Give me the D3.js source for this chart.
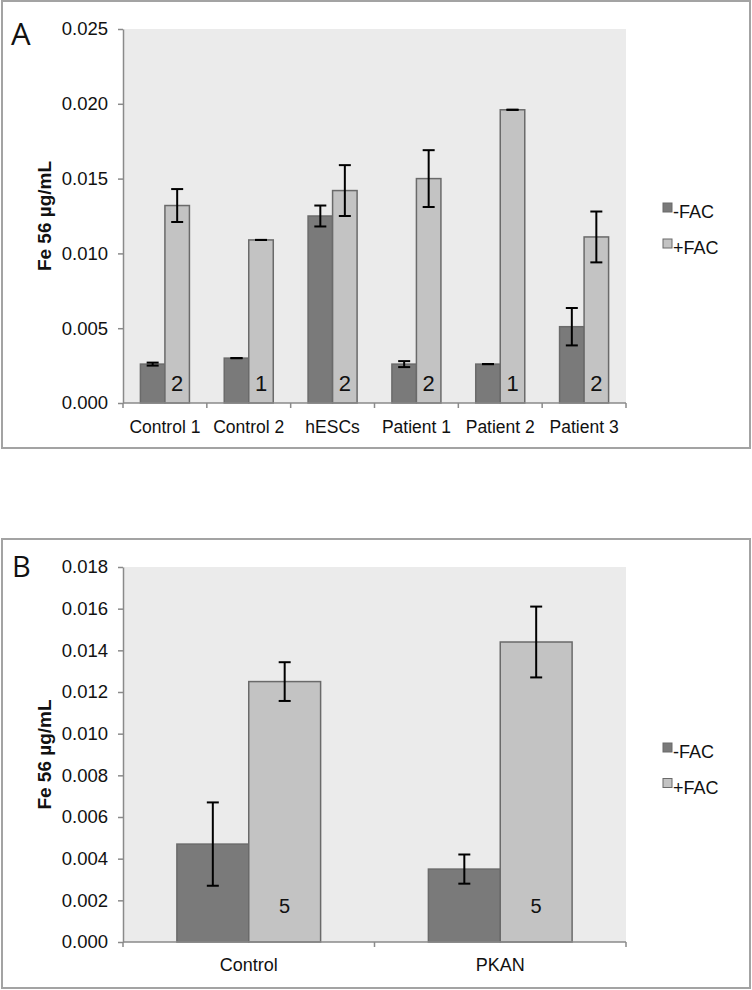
<!DOCTYPE html>
<html>
<head>
<meta charset="utf-8">
<script src="https://cdn.jsdelivr.net/npm/d3@7"></script>
<style>
  html, body { margin: 0; padding: 0; background: #fff; }
  svg { display: block; }
  text { font-family: "Liberation Sans", Arial, Helvetica, sans-serif; fill: #111; }
</style>
</head>
<body>
<svg id="chart" width="752" height="990"></svg>
<script>
// ---------- DATA ----------
const seriesNames = ["-FAC", "+FAC"];

const categoriesA = ["Control 1", "Control 2", "hESCs", "Patient 1", "Patient 2", "Patient 3"];
const minusFacA    = [0.0026, 0.0030, 0.0125, 0.0026, 0.0026, 0.0051];
const minusFacErrA = [0.0001, 0.0000, 0.0007, 0.0002, 0.0000, 0.00125];
const plusFacA     = [0.0132, 0.0109, 0.0142, 0.0150, 0.0196, 0.0111];
const plusFacErrA  = [0.0011, 0.0000, 0.0017, 0.0019, 0.0000, 0.0017];
const nLabelsA     = ["2", "1", "2", "2", "1", "2"];
const yTicksA      = [0, 0.005, 0.010, 0.015, 0.020, 0.025];

const categoriesB = ["Control", "PKAN"];
const minusFacB    = [0.0047, 0.0035];
const minusFacErrB = [0.0020, 0.0007];
const plusFacB     = [0.0125, 0.0144];
const plusFacErrB  = [0.00093, 0.0017];
const nLabelsB     = ["5", "5"];
const yTicksB      = [0, 0.002, 0.004, 0.006, 0.008, 0.010, 0.012, 0.014, 0.016, 0.018];

const yTitle = "Fe 56 µg/mL";

// ---------- STYLE ----------
const colors = { "-FAC": "#7a7a7a", "+FAC": "#c3c3c3" };
const barStroke = "#6a6a6a";
const svg = d3.select("#chart");

function drawPanel(cfg) {
  const g = svg.append("g");
  g.append("rect")
    .attr("x", cfg.frame[0]).attr("y", cfg.frame[1])
    .attr("width", cfg.frame[2]).attr("height", cfg.frame[3])
    .attr("fill", "#fff").attr("stroke", "#a3a3a3").attr("stroke-width", 2);

  const x0 = d3.scaleBand().domain(cfg.categories).range([cfg.left, cfg.right]).padding(0);
  const x1 = d3.scaleBand().domain(seriesNames).range([0, x0.bandwidth()])
    .paddingInner(0).paddingOuter(cfg.outerPad);
  const y = d3.scaleLinear().domain([0, cfg.yMax]).range([cfg.bottom, cfg.top]);

  g.append("rect")
    .attr("x", cfg.left).attr("y", cfg.top)
    .attr("width", cfg.right - cfg.left).attr("height", cfg.bottom - cfg.top)
    .attr("fill", "#ebebeb");

  const rows = cfg.categories.map((c, i) => ({
    cat: c,
    vals: [
      { s: "-FAC", v: cfg.minus[i], e: cfg.minusErr[i] },
      { s: "+FAC", v: cfg.plus[i], e: cfg.plusErr[i] }
    ],
    n: cfg.nLabels[i]
  }));

  const grp = g.selectAll(".grp").data(rows).join("g")
    .attr("transform", d => `translate(${x0(d.cat)},0)`);

  grp.selectAll("rect.bar").data(d => d.vals).join("rect")
    .attr("class", "bar")
    .attr("x", d => x1(d.s))
    .attr("y", d => y(d.v))
    .attr("width", x1.bandwidth())
    .attr("height", d => y(0) - y(d.v))
    .attr("fill", d => colors[d.s])
    .attr("stroke", barStroke)
    .attr("stroke-width", 1.5);

  const capW = 6;
  const eb = grp.selectAll("g.err").data(d => d.vals).join("g").attr("class", "err")
    .attr("stroke", "#000").attr("stroke-width", 2);
  eb.append("line")
    .attr("x1", d => x1(d.s) + x1.bandwidth() / 2)
    .attr("x2", d => x1(d.s) + x1.bandwidth() / 2)
    .attr("y1", d => y(d.v + d.e)).attr("y2", d => y(d.v - d.e));
  eb.append("line")
    .attr("x1", d => x1(d.s) + x1.bandwidth() / 2 - capW)
    .attr("x2", d => x1(d.s) + x1.bandwidth() / 2 + capW)
    .attr("y1", d => y(d.v + d.e)).attr("y2", d => y(d.v + d.e));
  eb.append("line")
    .attr("x1", d => x1(d.s) + x1.bandwidth() / 2 - capW)
    .attr("x2", d => x1(d.s) + x1.bandwidth() / 2 + capW)
    .attr("y1", d => y(d.v - d.e)).attr("y2", d => y(d.v - d.e));

  grp.append("text")
    .attr("x", x1("+FAC") + x1.bandwidth() / 2)
    .attr("y", cfg.bottom - cfg.nOffset)
    .attr("text-anchor", "middle")
    .style("font-size", cfg.nSize + "px")
    .text(d => d.n);

  const yAxis = d3.axisLeft(y).tickValues(cfg.yTicks).tickFormat(d3.format(".3f"))
    .tickSize(5).tickPadding(10).tickSizeOuter(0);
  const ya = g.append("g").attr("transform", `translate(${cfg.left},0)`).call(yAxis);
  ya.select(".domain").attr("stroke", "#8a8a8a").attr("stroke-width", 1.5);
  ya.selectAll(".tick line").attr("stroke", "#8a8a8a").attr("stroke-width", 1.5);
  ya.selectAll(".tick text").style("font-size", "18.5px").attr("fill", "#111")
    .style("font-family", "'Liberation Sans', Arial, sans-serif");

  const xa = g.append("g");
  xa.append("line")
    .attr("x1", cfg.left).attr("x2", cfg.right)
    .attr("y1", cfg.bottom).attr("y2", cfg.bottom)
    .attr("stroke", "#8a8a8a").attr("stroke-width", 1.5);
  const bounds = cfg.categories.map(c => x0(c)).concat([x0(cfg.categories[cfg.categories.length - 1]) + x0.bandwidth()]);
  xa.selectAll("line.bt").data(bounds).join("line")
    .attr("class", "bt")
    .attr("x1", d => d).attr("x2", d => d)
    .attr("y1", cfg.bottom).attr("y2", cfg.bottom + 5)
    .attr("stroke", "#8a8a8a").attr("stroke-width", 1.5);
  xa.selectAll("text").data(cfg.categories).join("text")
    .attr("x", d => x0(d) + x0.bandwidth() / 2)
    .attr("y", cfg.bottom + cfg.xLabelOffset)
    .attr("text-anchor", "middle")
    .style("font-size", cfg.xLabelSize + "px")
    .text(d => d);

  g.append("text")
    .attr("transform", `translate(${cfg.yTitleX},${(cfg.top + cfg.bottom) / 2}) rotate(-90)`)
    .attr("text-anchor", "middle")
    .style("font-size", "19px").style("font-weight", "bold")
    .text(yTitle);

  g.append("text")
    .attr("x", cfg.letterPos[0]).attr("y", cfg.letterPos[1])
    .style("font-size", cfg.letterSize + "px")
    .style("font-family", "'Open Sans', 'Liberation Sans', sans-serif")
    .text(cfg.letter);

  const lg = g.append("g").attr("transform", `translate(663,${cfg.legendY})`);
  const li = lg.selectAll("g").data(seriesNames).join("g")
    .attr("transform", (d, i) => `translate(0,${i * cfg.legendGap})`);
  li.append("rect").attr("x", 0).attr("y", 0).attr("width", 9).attr("height", 9)
    .attr("fill", d => colors[d]).attr("stroke", barStroke).attr("stroke-width", 1);
  li.append("text").attr("x", 10).attr("y", 15)
    .style("font-size", "18px").text(d => d);
}

drawPanel({
  frame: [2, 1, 748, 447],
  left: 123, right: 626, top: 29, bottom: 403,
  categories: categoriesA, minus: minusFacA, minusErr: minusFacErrA,
  plus: plusFacA, plusErr: plusFacErrA, nLabels: nLabelsA,
  yMax: 0.025, yTicks: yTicksA, outerPad: 0.71,
  nOffset: 12, nSize: 22, xLabelOffset: 30, xLabelSize: 17.5,
  yTitleX: 51, letter: "A", letterPos: [11, 45], letterSize: 31,
  legendY: 203, legendGap: 36
});

drawPanel({
  frame: [2, 539, 748, 449],
  left: 123, right: 626, top: 567, bottom: 942,
  categories: categoriesB, minus: minusFacB, minusErr: minusFacErrB,
  plus: plusFacB, plusErr: plusFacErrB, nLabels: nLabelsB,
  yMax: 0.018, yTicks: yTicksB, outerPad: 0.75,
  nOffset: 29, nSize: 20, xLabelOffset: 29, xLabelSize: 18,
  yTitleX: 51, letter: "B", letterPos: [12, 577], letterSize: 29,
  legendY: 743, legendGap: 35.5
});
</script>
</body>
</html>
